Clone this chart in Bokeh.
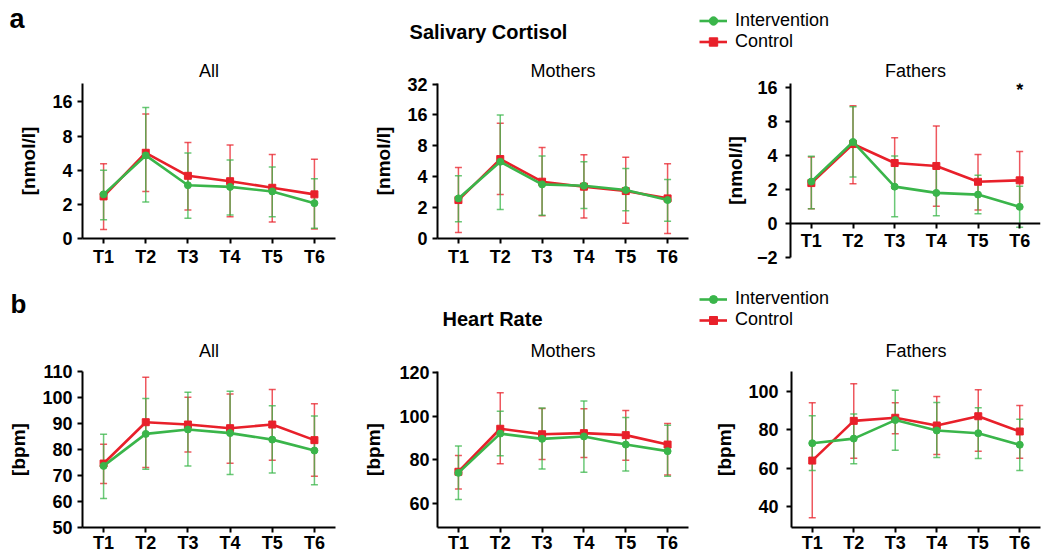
import numpy as np
from bokeh.plotting import figure
from bokeh.models import (FactorRange, Range1d, FixedTicker, Whisker, TeeHead,
                          ColumnDataSource, Label, Legend, LegendItem)
from bokeh.layouts import column, row
from bokeh.embed import file_html
from bokeh.resources import INLINE

# ---------------- data ----------------
times = ["T1", "T2", "T3", "T4", "T5", "T6"]

# Salivary cortisol [nmol/l]
cort_all_int = [2.45, 5.4, 2.95, 2.85, 2.6, 2.05]
cort_all_int_lo = [1.1, 2.1, 1.18, 1.38, 1.27, 0.6]
cort_all_int_hi = [4.0, 14.3, 5.66, 4.93, 4.26, 3.36]
cort_all_ctl = [2.35, 5.7, 3.57, 3.2, 2.8, 2.45]
cort_all_ctl_lo = [0.52, 2.6, 1.67, 1.28, 0.97, 0.55]
cort_all_ctl_hi = [4.57, 12.5, 7.03, 6.67, 5.5, 5.0]

cort_mot_int = [2.46, 5.6, 3.37, 3.27, 2.97, 2.37]
cort_mot_int_lo = [1.08, 1.88, 1.51, 1.95, 1.79, 1.12]
cort_mot_int_hi = [4.09, 16.0, 6.37, 5.6, 4.82, 3.77]
cort_mot_ctl = [2.37, 5.95, 3.58, 3.2, 2.9, 2.46]
cort_mot_ctl_lo = [0.39, 2.69, 1.47, 1.32, 0.99, 0.32]
cort_mot_ctl_hi = [4.93, 13.3, 7.73, 6.55, 6.18, 5.36]

cort_fat_int = [2.35, 5.27, 2.12, 1.8, 1.7, 0.98]
cort_fat_int_lo = [0.86, 2.58, 0.39, 0.45, 0.57, -0.22]
cort_fat_int_hi = [3.94, 10.8, 3.96, 3.16, 2.67, 2.14]
cort_fat_ctl = [2.28, 5.05, 3.43, 3.23, 2.34, 2.41]
cort_fat_ctl_lo = [0.86, 2.25, 2.05, 1.01, 0.8, 0.92]
cort_fat_ctl_hi = [3.88, 11.0, 5.75, 7.3, 4.09, 4.33]

cort_ticks_all = [0, 2, 4, 8, 16]
cort_ticks_mot = [0, 2, 4, 8, 16, 32]
cort_ticks_fat = [-2, 0, 2, 4, 8, 16]

# Heart rate [bpm]
hr_all_int = [73.7, 86.0, 87.7, 86.3, 83.8, 79.6]
hr_all_int_lo = [61.2, 72.4, 73.7, 70.4, 71.0, 66.4]
hr_all_int_hi = [85.9, 99.6, 102.0, 102.4, 96.8, 92.9]
hr_all_ctl = [74.6, 90.5, 89.6, 88.2, 89.6, 83.6]
hr_all_ctl_lo = [66.9, 73.1, 79.0, 74.7, 75.9, 69.7]
hr_all_ctl_hi = [82.0, 107.8, 100.1, 101.3, 103.1, 97.6]

hr_mot_int = [74.1, 92.0, 89.6, 90.7, 87.0, 84.0]
hr_mot_int_lo = [62.0, 81.9, 75.9, 74.4, 75.0, 72.6]
hr_mot_int_hi = [86.3, 102.2, 103.7, 106.8, 99.3, 95.8]
hr_mot_ctl = [74.6, 94.2, 91.7, 92.2, 91.3, 87.0]
hr_mot_ctl_lo = [66.7, 78.2, 80.2, 81.1, 79.9, 73.1]
hr_mot_ctl_hi = [82.0, 110.6, 103.4, 103.3, 102.5, 96.6]

hr_fat_int = [73.0, 75.4, 85.0, 79.6, 78.2, 72.2]
hr_fat_int_lo = [58.8, 62.3, 69.4, 65.6, 65.1, 58.8]
hr_fat_int_hi = [87.2, 88.2, 100.5, 94.1, 91.4, 85.5]
hr_fat_ctl = [64.0, 84.6, 86.2, 82.2, 87.0, 79.1]
hr_fat_ctl_lo = [34.3, 65.2, 77.9, 67.1, 68.9, 65.2]
hr_fat_ctl_hi = [94.0, 103.8, 94.0, 97.2, 100.7, 92.6]

hr_ticks_all = [50, 60, 70, 80, 90, 100, 110]
hr_ticks_mot = [60, 80, 100, 120]
hr_ticks_fat = [40, 60, 80, 100]

# ---------------- style ----------------
GREEN = "#3AB54A"
RED = "#E8202A"
FONT = "Liberation Sans"


def tr(v):
    """Axis transform of the cortisol panels: linear up to 2, log2 above."""
    v = np.asarray(v, dtype=float)
    a = np.abs(v)
    return np.where(a <= 2, v / 2.0, np.sign(v) * np.log2(np.maximum(a, 1e-9)))


def panel(title, width, height, borders, title_so, title_va, yr, ticks, ylabel, series,
          lab_so, axlab_so, x_so, transform=False, fixed0=False):
    left, right, top, bottom = borders
    p = figure(width=width, height=height, x_range=FactorRange(*times),
               y_range=Range1d(*yr), toolbar_location=None, output_backend="svg",
               min_border_left=left, min_border_right=right,
               min_border_top=top, min_border_bottom=bottom, title=title)
    p.title.align = "center"
    p.title.vertical_align = title_va
    p.title.text_font = FONT
    p.title.text_font_size = "18px"
    p.title.text_font_style = "normal"
    p.title.text_color = "black"
    p.title.standoff = title_so
    p.outline_line_color = None
    p.xgrid.visible = False
    p.ygrid.visible = False
    p.background_fill_color = "white"
    p.border_fill_color = "white"

    if transform:
        tt = [int(round(float(x))) for x in tr(ticks)]
        p.yaxis.ticker = FixedTicker(ticks=tt, minor_ticks=[])
        p.yaxis.major_label_overrides = {
            k: (str(t) if t >= 0 else "\u2212" + str(-t)) for k, t in zip(tt, ticks)}
    else:
        p.yaxis.ticker = FixedTicker(ticks=ticks, minor_ticks=[])

    for ax in p.axis:
        ax.axis_line_width = 2
        ax.axis_line_color = "black"
        ax.major_tick_line_width = 2
        ax.major_tick_out = 5
        ax.major_tick_in = 0
        ax.minor_tick_line_color = None
        ax.major_label_text_font = FONT
        ax.major_label_text_font_style = "bold"
        ax.major_label_text_font_size = "18px"
        ax.major_label_text_color = "black"
    p.xaxis.major_label_standoff = x_so
    p.yaxis.major_label_standoff = lab_so
    p.yaxis.axis_label = ylabel
    p.yaxis.axis_label_text_font = FONT
    p.yaxis.axis_label_text_font_style = "bold"
    p.yaxis.axis_label_text_font_size = "19px"
    p.yaxis.axis_label_text_color = "black"
    p.yaxis.axis_label_standoff = axlab_so
    if fixed0:
        p.xaxis.fixed_location = 0

    f = tr if transform else (lambda v: np.asarray(v, dtype=float))
    # error bars
    for mean, lo, hi, color, marker in series:
        src = ColumnDataSource(dict(x=times, lo=f(lo), hi=f(hi)))
        head = dict(size=7, line_color=color, line_alpha=0.75, line_width=1.5)
        p.add_layout(Whisker(source=src, base="x", upper="hi", lower="lo",
                             line_color=color, line_alpha=0.75, line_width=1.5,
                             upper_head=TeeHead(**head), lower_head=TeeHead(**head)))
    # lines and markers
    for mean, lo, hi, color, marker in series:
        src = ColumnDataSource(dict(x=times, y=f(mean)))
        p.line("x", "y", source=src, line_color=color, line_width=2.6)
        p.scatter("x", "y", source=src, marker=marker, size=7,
                  fill_color=color, line_color=color)
    return p


def txt(x, y, text, size, bold=False, align="center"):
    return Label(x=x, y=y, text=text, text_font=FONT, text_font_size=size,
                 text_font_style="bold" if bold else "normal",
                 text_color="black", text_baseline="middle", text_align=align)


def header(height, letter, letter_xy, letter_size, title, title_xy, leg_y, label_h):
    h = figure(width=1041, height=height, x_range=Range1d(0, 1041),
               y_range=Range1d(height, 0), x_axis_type=None, y_axis_type=None,
               toolbar_location=None, output_backend="svg", min_border=0)
    h.outline_line_color = None
    h.xgrid.visible = False
    h.ygrid.visible = False
    h.add_layout(txt(letter_xy[0], letter_xy[1], letter, letter_size, bold=True,
                     align="left"))
    h.add_layout(txt(title_xy[0], title_xy[1], title, "20px", bold=True))
    # legend entries (their sample glyphs lie off the canvas)
    l1 = h.line(x=[-200, -100], y=[-200, -200], line_color=GREEN, line_width=2.6)
    m1 = h.scatter(x=[-150], y=[-200], marker="circle", size=7,
                   fill_color=GREEN, line_color=GREEN)
    l2 = h.line(x=[-200, -100], y=[-200, -200], line_color=RED, line_width=2.6)
    m2 = h.scatter(x=[-150], y=[-200], marker="square", size=7,
                   fill_color=RED, line_color=RED)
    leg = Legend(items=[LegendItem(label="Intervention", renderers=[l1, m1]),
                        LegendItem(label="Control", renderers=[l2, m2])],
                 location=(699, leg_y), glyph_width=28, glyph_height=label_h,
                 label_height=label_h, label_standoff=8, spacing=0, padding=0,
                 margin=0, border_line_color=None, background_fill_alpha=0,
                 label_text_font=FONT, label_text_font_size="18px",
                 label_text_color="black")
    h.add_layout(leg)
    return h


hdr1 = header(56, "a", (9, 18.6), "27px", "Salivary Cortisol", (488, 31), 3.8, 21)

f1 = panel("All", 340, 213, (82, 5, 26, 31), 5, "bottom", (0, 4.54), cort_ticks_all,
           "[nmol/l]",
           [(cort_all_ctl, cort_all_ctl_lo, cort_all_ctl_hi, RED, "square"),
            (cort_all_int, cort_all_int_lo, cort_all_int_hi, GREEN, "circle")],
           5, 10, 3, transform=True)
f2 = panel("Mothers", 350, 213, (97, 2, 26, 31), 5, "bottom", (0, 5.02), cort_ticks_mot,
           "[nmol/l]",
           [(cort_mot_ctl, cort_mot_ctl_lo, cort_mot_ctl_hi, RED, "square"),
            (cort_mot_int, cort_mot_int_lo, cort_mot_int_hi, GREEN, "circle")],
           5, 10, 3, transform=True)
f3 = panel("Fathers", 351, 232, (100, 1, 26, 31), 5, "bottom", (-1, 4.117), cort_ticks_fat,
           "[nmol/l]",
           [(cort_fat_ctl, cort_fat_ctl_lo, cort_fat_ctl_hi, RED, "square"),
            (cort_fat_int, cort_fat_int_lo, cort_fat_int_hi, GREEN, "circle")],
           8, 8, 3, transform=True, fixed0=True)
f3.add_layout(txt(5.5, 3.92, "*", "18px", bold=True))

hdr2 = header(44, "b", (10, 15.3), "26px", "Heart Rate", (492, 30), 2, 20)

f4 = panel("All", 340, 223, (82, 5, 39, 28), 17, "top", (50, 110), hr_ticks_all, "[bpm]",
           [(hr_all_ctl, hr_all_ctl_lo, hr_all_ctl_hi, RED, "square"),
            (hr_all_int, hr_all_int_lo, hr_all_int_hi, GREEN, "circle")],
           5, 10, 0)
f5 = panel("Mothers", 350, 223, (97, 2, 39, 28), 17, "top", (49.2, 120.3), hr_ticks_mot,
           "[bpm]",
           [(hr_mot_ctl, hr_mot_ctl_lo, hr_mot_ctl_hi, RED, "square"),
            (hr_mot_int, hr_mot_int_lo, hr_mot_int_hi, GREEN, "circle")],
           3, 12, 0)
f6 = panel("Fathers", 351, 223, (101, 1, 39, 28), 17, "top", (29.3, 110.2), hr_ticks_fat,
           "[bpm]",
           [(hr_fat_ctl, hr_fat_ctl_lo, hr_fat_ctl_hi, RED, "square"),
            (hr_fat_int, hr_fat_int_lo, hr_fat_int_hi, GREEN, "circle")],
           8, 10, 0)

layout = column(hdr1, row(f1, f2, f3), hdr2, row(f4, f5, f6))
open("out.html", "w").write(file_html(layout, INLINE))
